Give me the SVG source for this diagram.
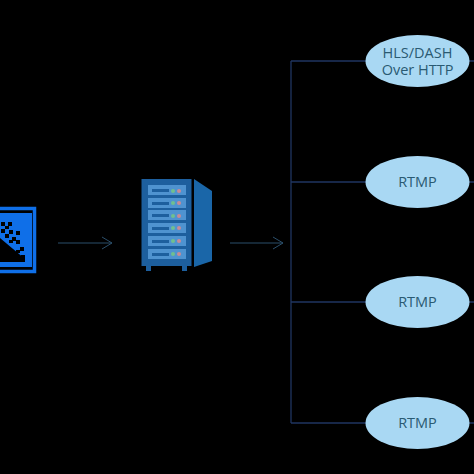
<svg xmlns="http://www.w3.org/2000/svg" width="474" height="474" viewBox="0 0 474 474">
<style>
.e{fill:#a9d8f3;stroke:none}
.t{font-family:"Open Sans","Noto Sans",sans-serif;font-size:14.500px;fill:#2a5a72;text-anchor:middle}
.c{fill:none;stroke:#1f3560;stroke-width:1.300}
.a{fill:none;stroke:#2b4f6b;stroke-width:1}
.s{fill:#4f93d0}.b{fill:#1d5f9e}.g{fill:#6fc08f}.r{fill:#c98a96}
</style>
<rect width="474" height="474" fill="#000"/>
<g id="connectors">
<path class="c" d="M291 61V423M291 61H366M291 182H366M291 302H366M291 423H366M469 61H474M469 182H474M469 302H474M469 423H474"/>
<path class="a" d="M58 243H112M102 237L112 243L102 249"/>
<path class="a" d="M230 243H283M273 237L283 243L273 249"/>
</g>
<g id="source">
<rect x="-12" y="208.500" width="46.500" height="63" fill="none" stroke="#0f6fe8" stroke-width="3.500"/>
<rect x="-12" y="213" width="44" height="54" fill="#0f6fe8"/>
<path d="M-12 234L0 238L25 259V262H-12Z" fill="#000"/>
<g fill="#000">
<rect x="1" y="222" width="4" height="4"/><rect x="8" y="222" width="4" height="4"/>
<rect x="1" y="229" width="4" height="4"/><rect x="5" y="226" width="4" height="3"/>
<rect x="9" y="230" width="4" height="4"/><rect x="16" y="231" width="4" height="4"/>
<rect x="5" y="234" width="4" height="4"/><rect x="12" y="237" width="4" height="4"/>
<rect x="16" y="240" width="4" height="4"/><rect x="9" y="240" width="4" height="3"/>
<rect x="20" y="247" width="4" height="4"/><rect x="16" y="250" width="4" height="3"/>
<rect x="21" y="255" width="4" height="4"/>
</g>
</g>
<g id="server">
<rect x="141.500" y="179" width="50" height="87" class="b"/>
<rect x="146" y="265" width="5" height="6" class="b"/><rect x="182" y="265" width="5" height="6" class="b"/>
<path d="M194 179L212 191V261L194 267Z" fill="#1a66a8"/>
<g id="slots">
<rect x="148" y="185" width="38" height="10" class="s"/><rect x="152" y="189" width="17" height="3" class="b"/><circle cx="173" cy="191" r="2" class="g"/><circle cx="179" cy="191" r="2" class="r"/>
<rect x="148" y="198" width="38" height="10" class="s"/><rect x="152" y="202" width="17" height="3" class="b"/><circle cx="173" cy="203" r="2" class="g"/><circle cx="179" cy="203" r="2" class="r"/>
<rect x="148" y="210" width="38" height="10" class="s"/><rect x="152" y="214" width="17" height="3" class="b"/><circle cx="173" cy="216" r="2" class="g"/><circle cx="179" cy="216" r="2" class="r"/>
<rect x="148" y="223" width="38" height="10" class="s"/><rect x="152" y="227" width="17" height="3" class="b"/><circle cx="173" cy="228" r="2" class="g"/><circle cx="179" cy="228" r="2" class="r"/>
<rect x="148" y="236" width="38" height="10" class="s"/><rect x="152" y="240" width="17" height="3" class="b"/><circle cx="173" cy="241" r="2" class="g"/><circle cx="179" cy="241" r="2" class="r"/>
<rect x="148" y="249" width="38" height="10" class="s"/><rect x="152" y="253" width="17" height="3" class="b"/><circle cx="173" cy="254" r="2" class="g"/><circle cx="179" cy="254" r="2" class="r"/>
</g>
</g>
<g id="hls"><ellipse class="e" cx="417.500" cy="61" rx="52" ry="26"/><text class="t" x="417.500" y="57.500">HLS/DASH</text><text class="t" x="417.500" y="75">Over HTTP</text></g>
<g id="rtmp1"><ellipse class="e" cx="417.500" cy="182" rx="52" ry="26"/><text class="t" x="417.500" y="187">RTMP</text></g>
<g id="rtmp2"><ellipse class="e" cx="417.500" cy="302" rx="52" ry="26"/><text class="t" x="417.500" y="307">RTMP</text></g>
<g id="rtmp3"><ellipse class="e" cx="417.500" cy="423" rx="52" ry="26"/><text class="t" x="417.500" y="428">RTMP</text></g>
</svg>
